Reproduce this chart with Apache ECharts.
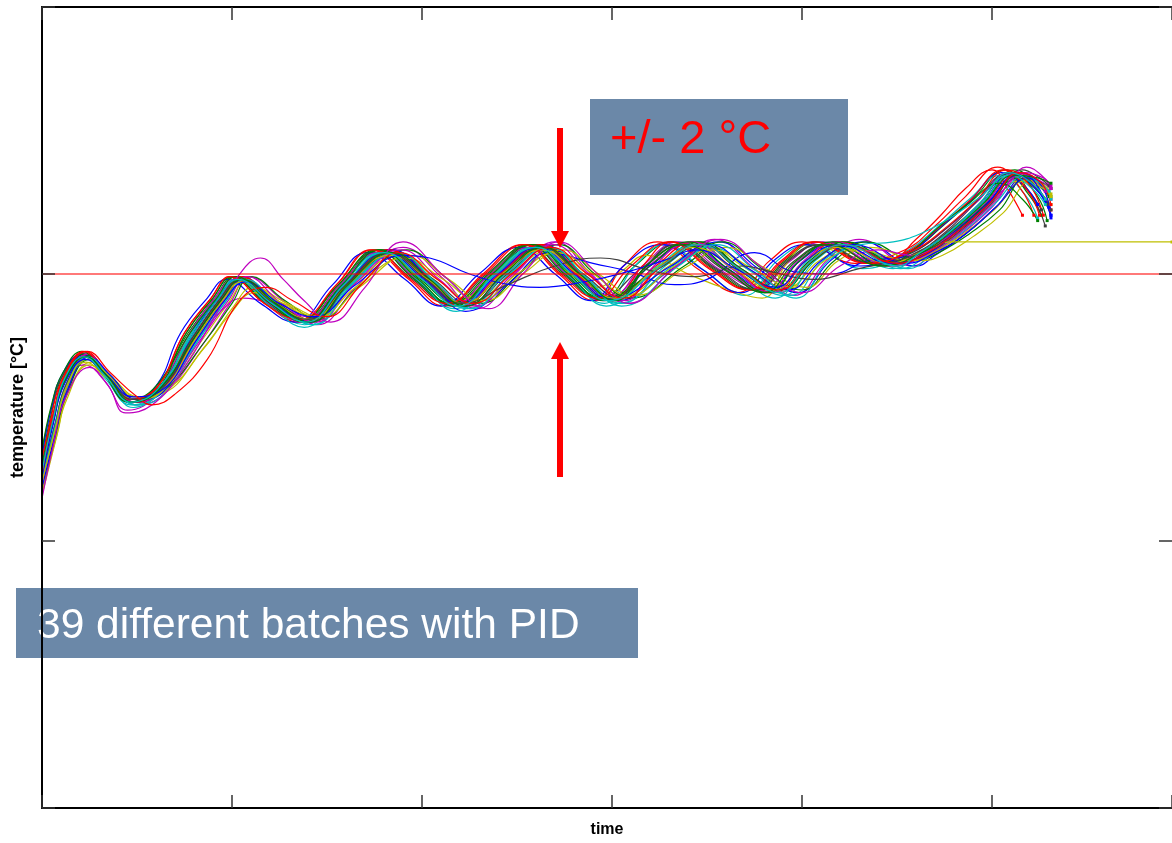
<!DOCTYPE html>
<html><head><meta charset="utf-8">
<script src="https://cdn.jsdelivr.net/npm/echarts@6/dist/echarts.min.js"></script>
<style>html,body{margin:0;padding:0;background:#fff}#c{width:1172px;height:843px}</style>
</head><body><div id="c"></div>
<script>
// MATLAB-style colour cycle: b g r c m y k
const batchColors = ['#0000ff','#008000','#ff0000','#00bfbf','#bf00bf','#bfbf00','#404040'];
const setpoint = 200;
const timeMax = 594.7;
const yTicks = [0, 100, 200, 300];
const noteText = '39 different batches with PID';
const bandText = '+/- 2 °C';

// each batch: [time, temperature]
const batch01 = [[0,125],[6,145],[12,160],[23,169],[34,162],[48,153],[62,157],[80,177],[94,191],[104,198],[122,189],[140,183],[160,196],[182,208],[202,198],[221,189],[241,200],[262,210],[281,200],[300,191],[320,203],[340,211],[361,202],[382,194],[399,205],[416,211],[444,204],[462,208],[478,216],[494,226],[511,238],[523,232],[530,226]];
const batch02 = [[0,130],[5,148],[11,162],[21,170],[32,163],[46,153],[60,158],[77,178],[91,191],[101,199],[119,189],[137,183],[157,196],[177,209],[197,198],[216,189],[236,200],[257,211],[276,200],[295,191],[312,203],[332,212],[353,202],[374,194],[391,205],[408,212],[436,204],[458,209],[474,218],[490,228],[507,239],[519,230],[526,222]];
const batch03 = [[0,122],[7,142],[13,158],[24,169],[35,161],[49,152],[63,156],[82,176],[96,190],[106,198],[124,189],[142,182],[162,196],[185,208],[205,198],[224,188],[244,200],[265,210],[284,200],[303,190],[326,203],[346,211],[367,202],[388,193],[405,205],[422,211],[450,203],[464,208],[480,216],[496,226],[513,238],[525,231],[531,224]];
const batch04 = [[0,128],[6,147],[12,161],[22,169],[33,161],[47,151],[61,156],[78,177],[92,191],[102,197],[120,188],[138,181],[158,196],[178,208],[198,197],[217,187],[237,200],[258,210],[277,199],[296,189],[312,203],[328,211],[349,201],[370,192],[387,205],[404,211],[432,202],[456,209],[472,218],[488,228],[505,237],[517,230],[524,221]];
const batch05 = [[0,118],[7,138],[13,155],[25,169],[36,162],[50,151],[64,155],[85,174],[99,189],[109,199],[127,190],[145,181],[165,195],[190,210],[210,199],[229,187],[249,200],[270,212],[289,200],[308,189],[334,203],[354,213],[375,202],[396,192],[413,205],[430,213],[458,203],[468,207],[484,215],[500,225],[515,237],[526,233],[531,228]];
const batch06 = [[0,120],[8,140],[14,156],[26,167],[37,161],[51,154],[65,157],[84,175],[98,189],[108,197],[126,189],[144,184],[164,196],[188,207],[208,198],[227,190],[247,200],[268,209],[287,200],[306,192],[330,203],[350,210],[371,202],[392,195],[409,205],[426,210],[454,205],[470,208],[486,215],[502,225],[519,236],[528,233],[531,230]];
const batch07 = [[0,133],[5,150],[11,162],[22,170],[33,162],[47,153],[61,158],[76,178],[90,191],[100,199],[118,189],[136,183],[156,196],[175,208],[195,198],[214,189],[234,200],[255,210],[274,200],[293,191],[317,203],[337,211],[358,202],[379,194],[396,205],[413,211],[441,204],[460,208],[476,216],[492,227],[509,238],[521,229],[528,218]];
const batch08 = [[0,124],[7,144],[13,159],[24,170],[35,162],[49,152],[63,156],[81,177],[95,191],[105,199],[123,189],[141,182],[161,196],[184,209],[204,198],[223,188],[243,200],[264,211],[283,200],[302,190],[334,203],[356,212],[377,202],[398,193],[415,205],[432,212],[460,203],[470,207],[486,215],[502,225],[518,237],[527,229],[531,221]];
const batch09 = [[0,131],[6,148],[12,161],[22,170],[33,163],[47,153],[61,157],[78,178],[92,191],[102,199],[120,189],[138,183],[158,196],[179,209],[199,198],[218,189],[238,200],[259,211],[278,200],[297,191],[325,203],[345,212],[366,202],[387,194],[404,205],[421,212],[449,204],[464,209],[480,217],[496,227],[512,239],[523,234],[530,229]];
const batch10 = [[0,127],[5,147],[11,161],[21,170],[32,163],[46,152],[60,157],[75,178],[89,191],[99,199],[117,189],[135,182],[155,196],[173,209],[193,198],[212,188],[232,200],[253,211],[272,200],[291,190],[306,203],[324,212],[345,202],[366,193],[383,205],[400,212],[428,204],[454,209],[470,218],[486,229],[503,240],[515,232],[522,222]];
const batch11 = [[0,121],[7,141],[13,157],[25,169],[36,161],[50,151],[64,155],[83,176],[97,190],[107,198],[125,188],[143,181],[163,196],[187,208],[207,197],[226,187],[246,200],[267,210],[286,199],[305,189],[328,203],[348,211],[369,201],[390,192],[407,205],[424,211],[452,202],[466,207],[482,215],[498,225],[514,237],[525,233],[531,229]];
const batch12 = [[0,129],[6,147],[12,161],[22,166],[33,160],[45,149],[61,155],[80,174],[94,186],[106,191],[124,188],[140,184],[160,196],[182,209],[202,198],[221,190],[241,200],[262,211],[281,200],[300,192],[316,203],[335,212],[356,202],[377,195],[394,205],[411,212],[439,205],[460,209],[476,217],[492,227],[509,238],[521,235],[528,231]];
const batch13 = [[0,123],[7,143],[13,159],[24,168],[35,162],[49,153],[63,157],[79,177],[93,191],[103,197],[121,189],[139,183],[159,196],[180,207],[200,198],[218,190],[238,200],[258,209],[276,201],[292,195],[305,201],[318,207],[340,200],[362,194],[379,191],[392,204],[403,211],[424,207],[445,203],[466,208],[482,215],[498,225],[515,235],[526,230],[531,226]];
const batch14 = [[0,126],[6,145],[12,160],[23,169],[34,162],[48,153],[62,157],[82,177],[96,191],[106,198],[124,189],[142,183],[162,196],[186,208],[206,198],[225,189],[245,200],[266,210],[285,200],[304,191],[318,203],[333,211],[354,202],[375,194],[392,205],[409,211],[437,204],[458,208],[474,216],[490,226],[507,237],[519,231],[526,224]];
const batch15 = [[0,132],[5,150],[11,163],[21,170],[32,163],[46,152],[60,158],[73,178],[87,191],[97,198],[115,189],[133,182],[153,196],[171,208],[191,198],[210,188],[230,200],[251,210],[270,200],[289,190],[306,203],[326,211],[347,202],[368,193],[385,205],[402,211],[430,203],[456,208],[472,217],[488,227],[505,238],[517,233],[524,226]];
const batch16 = [[0,119],[7,139],[13,155],[25,168],[36,162],[50,153],[64,156],[86,175],[100,189],[110,199],[128,190],[146,183],[166,195],[192,209],[212,199],[231,189],[251,200],[272,211],[291,200],[310,191],[338,203],[358,212],[379,202],[400,194],[417,205],[434,212],[460,205],[472,208],[488,215],[504,224],[518,236],[527,234],[531,232]];
const batch17 = [[0,125],[6,146],[12,161],[23,171],[34,163],[48,152],[62,156],[80,177],[94,191],[104,199],[122,189],[140,182],[160,196],[182,209],[202,198],[221,188],[241,200],[262,211],[281,200],[300,190],[323,203],[343,212],[364,202],[385,193],[402,205],[419,212],[447,206],[460,213],[473,222],[486,232],[500,239],[508,232],[516,222]];
const batch18 = [[0,124],[7,144],[13,159],[24,168],[35,162],[49,151],[63,156],[82,176],[96,190],[106,197],[124,188],[142,181],[162,196],[185,207],[205,197],[224,187],[244,200],[265,209],[284,199],[303,189],[332,203],[352,210],[373,201],[394,192],[411,205],[428,210],[456,202],[469,208],[485,216],[501,226],[518,237],[527,232],[531,228]];
const batch19 = [[0,130],[6,147],[12,161],[22,169],[33,162],[47,152],[61,157],[77,177],[91,191],[101,198],[119,189],[137,182],[157,196],[177,208],[197,198],[216,188],[236,200],[257,210],[276,200],[295,190],[319,203],[339,211],[360,202],[381,193],[398,205],[415,211],[443,203],[464,208],[480,216],[496,226],[513,238],[525,235],[531,232]];
const batch20 = [[0,117],[7,137],[13,153],[25,166],[36,161],[50,154],[64,156],[87,174],[101,188],[111,195],[129,189],[147,184],[167,195],[194,207],[214,198],[233,190],[253,200],[274,209],[293,200],[312,192],[340,203],[360,210],[381,202],[402,195],[419,205],[436,210],[462,205],[474,207],[490,214],[506,223],[521,235],[528,232],[531,229]];
const batch21 = [[0,128],[6,146],[12,160],[22,169],[33,162],[47,153],[61,157],[79,177],[93,191],[103,198],[121,189],[139,183],[159,196],[180,208],[200,198],[219,189],[239,200],[260,210],[279,200],[298,191],[327,203],[347,211],[368,202],[389,194],[406,205],[423,211],[451,204],[467,208],[483,216],[499,226],[516,239],[525,236],[530,233]];
const batch22 = [[0,126],[6,146],[12,161],[23,170],[34,163],[48,152],[62,157],[81,177],[95,191],[105,198],[123,189],[141,182],[161,196],[184,209],[204,198],[223,186],[245,196],[267,208],[290,204],[309,201],[333,196],[350,198],[375,208],[395,201],[415,200],[435,205],[450,206],[466,209],[482,217],[498,227],[515,238],[526,233],[531,222]];
const batch23 = [[0,129],[6,147],[12,161],[22,170],[33,163],[47,153],[61,157],[76,178],[90,191],[100,199],[118,189],[136,183],[156,196],[176,209],[196,198],[215,189],[235,200],[256,211],[275,200],[294,191],[326,203],[347,212],[368,202],[389,194],[406,205],[423,212],[451,204],[465,208],[481,216],[497,226],[514,236],[524,229],[529,220]];
const batch24 = [[0,122],[7,142],[13,158],[24,170],[35,162],[49,152],[63,156],[81,177],[95,191],[105,199],[123,189],[141,183],[161,196],[183,209],[203,198],[222,189],[242,200],[263,211],[282,200],[301,191],[316,203],[331,212],[352,202],[373,194],[390,205],[407,212],[435,204],[457,209],[473,218],[489,228],[506,239],[518,232],[525,222]];
const batch25 = [[0,127],[6,146],[12,160],[23,169],[34,162],[48,150],[62,156],[78,177],[92,191],[102,198],[120,188],[138,180],[158,196],[179,208],[199,197],[218,186],[238,200],[259,210],[278,199],[297,188],[324,203],[344,211],[365,201],[386,191],[403,205],[420,211],[448,202],[462,208],[478,216],[494,226],[511,237],[523,235],[530,231]];
const batch26 = [[0,121],[7,141],[13,157],[24,170],[35,162],[49,152],[63,156],[84,176],[98,190],[108,199],[126,189],[144,182],[164,196],[189,209],[209,198],[228,188],[248,200],[269,211],[288,200],[307,190],[322,203],[342,212],[363,202],[384,193],[401,205],[418,212],[446,203],[468,208],[484,216],[500,226],[517,238],[527,236],[531,233]];
const batch27 = [[0,118],[6,139],[12,155],[23,167],[34,161],[48,154],[62,155],[85,172],[99,185],[112,193],[127,189],[145,184],[165,195],[191,206],[211,198],[230,190],[250,200],[271,208],[290,200],[309,192],[333,203],[353,209],[374,202],[395,195],[412,205],[429,209],[457,205],[469,208],[485,215],[501,224],[518,235],[527,232],[531,229]];
const batch28 = [[0,124],[7,144],[13,159],[24,169],[35,162],[49,153],[63,157],[81,177],[95,191],[105,198],[123,189],[141,183],[161,196],[183,208],[203,198],[222,189],[242,200],[263,210],[282,200],[301,191],[318,203],[334,211],[355,202],[376,194],[393,205],[410,211],[438,204],[461,208],[477,216],[493,226],[510,238],[522,233],[529,226]];
const batch29 = [[0,120],[7,140],[13,156],[25,169],[36,162],[50,153],[64,156],[79,177],[93,191],[103,198],[121,189],[139,183],[159,196],[181,208],[201,198],[220,189],[240,200],[261,210],[280,200],[299,191],[331,203],[351,211],[372,202],[393,194],[410,205],[427,211],[455,204],[470,208],[486,215],[502,225],[519,236],[527,228],[531,222]];
const batch30 = [[0,134],[5,151],[11,163],[21,171],[32,163],[46,152],[60,158],[78,178],[92,191],[102,199],[120,189],[138,182],[158,196],[178,209],[198,198],[217,188],[237,200],[258,211],[277,200],[296,190],[320,203],[340,212],[361,202],[382,193],[399,205],[416,212],[444,203],[457,208],[471,217],[487,226],[504,234],[516,228],[524,220]];
const batch31 = [[0,131],[6,148],[12,162],[22,171],[33,163],[47,153],[61,158],[75,178],[89,191],[99,199],[117,189],[135,183],[155,196],[174,209],[194,198],[213,189],[233,200],[254,211],[273,200],[292,191],[310,203],[330,212],[351,202],[372,194],[389,205],[406,212],[434,204],[459,209],[475,217],[491,227],[508,239],[520,233],[527,222]];
const batch32 = [[0,123],[7,143],[13,158],[24,169],[35,162],[49,151],[63,156],[83,176],[97,190],[107,198],[125,188],[143,181],[163,196],[187,208],[207,197],[226,187],[246,200],[267,210],[286,199],[305,188],[335,203],[355,211],[376,201],[397,191],[414,205],[431,211],[448,212],[462,215],[478,221],[494,229],[509,237],[521,232],[528,226]];
const batch33 = [[0,116],[6,136],[12,153],[25,165],[35,158],[44,148],[58,151],[75,165],[90,183],[103,199],[115,206],[127,198],[138,190],[152,182],[170,195],[190,212],[212,199],[235,187],[253,200],[272,212],[291,201],[309,189],[334,203],[357,213],[378,203],[400,193],[420,203],[440,209],[458,207],[475,213],[492,222],[508,233],[518,240],[526,237],[531,232]];
const batch34 = [[0,122],[7,142],[13,158],[24,168],[35,162],[49,153],[63,156],[81,176],[95,190],[105,197],[123,189],[141,183],[161,196],[183,207],[203,198],[222,189],[242,200],[263,209],[282,200],[301,191],[323,202],[343,210],[364,202],[385,194],[402,205],[419,210],[446,204],[462,208],[478,212],[500,212],[594.7,212]];
const batch35 = [[0,127],[6,146],[12,160],[23,169],[34,162],[48,153],[62,157],[80,177],[94,191],[104,198],[122,189],[140,183],[160,196],[182,208],[202,198],[221,189],[245,196],[270,203],[294,206],[322,201],[343,199],[369,203],[383,201],[406,198],[430,202],[450,205],[466,209],[482,216],[498,226],[514,237],[525,231],[531,224]];
const batch36 = [[0,124],[6,144],[12,159],[23,168],[34,162],[48,154],[62,156],[82,176],[96,190],[107,197],[125,189],[143,184],[165,196],[190,207],[204,206],[225,200],[246,196],[262,195],[285,197],[309,201],[327,205],[345,209],[365,202],[386,195],[402,205],[419,211],[447,204],[464,207],[480,215],[496,225],[513,237],[524,231],[530,225]];
const batch37 = [[0,127],[6,146],[12,160],[23,169],[34,162],[48,152],[62,157],[81,177],[95,191],[105,198],[123,189],[141,182],[161,196],[184,208],[204,198],[223,188],[243,200],[264,210],[283,200],[302,190],[318,203],[338,211],[359,202],[380,193],[397,205],[414,211],[442,203],[463,208],[479,216],[495,226],[512,237],[524,236],[531,234]];
const batch38 = [[0,125],[6,147],[12,162],[24,171],[36,163],[50,154],[58,151],[70,155],[87,168],[104,190],[118,195],[132,190],[150,184],[168,196],[188,208],[208,198],[227,189],[247,200],[268,210],[287,200],[306,191],[326,203],[346,211],[367,202],[388,194],[405,205],[422,211],[450,204],[466,208],[482,216],[498,226],[515,238],[526,234],[531,226]];
const batch39 = [[0,126],[6,146],[12,161],[22,169],[33,162],[47,152],[61,157],[79,177],[93,191],[103,198],[121,189],[139,182],[159,196],[180,208],[200,198],[219,188],[239,200],[260,210],[279,200],[298,190],[326,203],[346,211],[367,202],[388,193],[405,205],[422,211],[450,203],[462,208],[478,216],[494,227],[509,238],[521,234],[528,228]];

const batches = [batch01,batch02,batch03,batch04,batch05,batch06,batch07,batch08,batch09,batch10,
  batch11,batch12,batch13,batch14,batch15,batch16,batch17,batch18,batch19,batch20,
  batch21,batch22,batch23,batch24,batch25,batch26,batch27,batch28,batch29,batch30,
  batch31,batch32,batch33,batch34,batch35,batch36,batch37,batch38,batch39];

const FONT = '"Liberation Sans", Arial, Helvetica, sans-serif';

const series = batches.map((d, i) => {
  const color = batchColors[i % batchColors.length];
  return {
    type: 'line',
    name: 'batch ' + (i + 1),
    data: d.map((p, j) => j === d.length - 1 ? { value: p, symbol: 'rect', symbolSize: 3 } : p),
    smooth: 0.45,
    symbol: 'none',
    showSymbol: true,
    lineStyle: { width: 1.2, color: color },
    itemStyle: { color: color },
    silent: true,
    z: 2
  };
});
series.push({
  type: 'line',
  name: 'setpoint',
  data: [[0, setpoint], [timeMax, setpoint]],
  symbol: 'none',
  lineStyle: { width: 1.6, color: 'rgba(255,0,0,0.7)' },
  silent: true,
  z: 3
});

const axisCommon = {
  axisLine: { show: true, onZero: false, lineStyle: { color: '#000', width: 2 } },
  axisTick: { show: true, inside: true, length: 13, lineStyle: { color: '#333', width: 1.5 } },
  axisLabel: { show: false },
  splitLine: { show: false },
  z: 5
};

const chart = echarts.init(document.getElementById('c'), null, { renderer: 'canvas' });
chart.setOption({
  animation: false,
  backgroundColor: '#fff',
  grid: { left: 42, right: 0, top: 7, bottom: 32, containLabel: false },
  xAxis: [
    Object.assign({ type: 'value', position: 'bottom', min: 0, max: timeMax, interval: 100,
      name: 'time', nameLocation: 'middle', nameGap: 14,
      nameTextStyle: { fontWeight: 'bold', fontSize: 16, color: '#000', fontFamily: FONT } }, axisCommon),
    Object.assign({ type: 'value', position: 'top', min: 0, max: timeMax, interval: 100 }, axisCommon)
  ],
  yAxis: [
    Object.assign({ type: 'value', position: 'left', min: yTicks[0], max: yTicks[yTicks.length - 1], interval: 100,
      name: 'temperature [°C]', nameLocation: 'middle', nameGap: 15, nameRotate: 90,
      nameTextStyle: { fontWeight: 'bold', fontSize: 18, color: '#000', fontFamily: FONT } }, axisCommon),
    Object.assign({ type: 'value', position: 'right', min: yTicks[0], max: yTicks[yTicks.length - 1], interval: 100 },
      axisCommon, { axisLine: { show: false, onZero: false } })
  ],
  series: series,
  graphic: [
    { type: 'rect', z: 1, shape: { x: 16, y: 588, width: 622, height: 70 }, style: { fill: '#6b88a8' } },
    { type: 'text', z: 1, x: 37, y: 626, style: { text: noteText, fill: '#ffffff', fontSize: 42.5, fontFamily: FONT, align: 'left', verticalAlign: 'middle' } },
    { type: 'rect', z: 1, shape: { x: 590, y: 99, width: 258, height: 96 }, style: { fill: '#6b88a8' } },
    { type: 'text', z: 1, x: 610, y: 140, style: { text: bandText, fill: '#ff0000', fontSize: 47, fontFamily: FONT, align: 'left', verticalAlign: 'middle' } },
    { type: 'rect', z: 4, shape: { x: 557, y: 128, width: 6, height: 106 }, style: { fill: '#ff0000' } },
    { type: 'polygon', z: 4, shape: { points: [[551, 231], [569, 231], [560, 248]] }, style: { fill: '#ff0000' } },
    { type: 'rect', z: 4, shape: { x: 557, y: 357, width: 6, height: 120 }, style: { fill: '#ff0000' } },
    { type: 'polygon', z: 4, shape: { points: [[551, 359], [569, 359], [560, 342]] }, style: { fill: '#ff0000' } }
  ]
});
</script>
</body></html>
